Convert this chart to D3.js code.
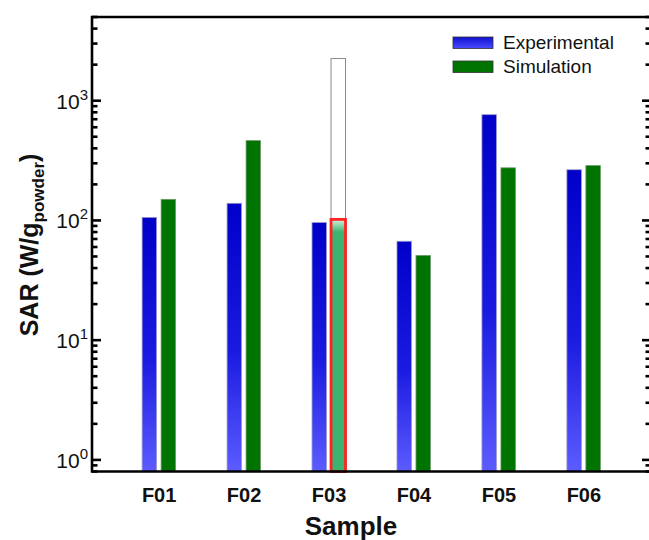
<!DOCTYPE html>
<html>
<head>
<meta charset="utf-8">
<script src="https://cdn.jsdelivr.net/npm/d3@7"></script>
<style>
  html, body { margin: 0; padding: 0; background: #fff; }
  svg { display: block; font-family: "Liberation Sans", Arial, sans-serif; }
</style>
</head>
<body>
<svg id="chart" width="649" height="540"></svg>
<script>
// values (log axis)
const samples = ['F01', 'F02', 'F03', 'F04', 'F05', 'F06'];
const series = ['Experimental', 'Simulation'];
const experimental = [106, 139, 96, 67, 764, 265];
const simulation = [150, 464, 102, 51, 275, 287];
const f03Outline = 2250;          // open grey bar stacked over F03 simulation
const decadeTicks = [1, 10, 100, 1000];
const decadeLabels = ['0', '1', '2', '3'];

const plotL = 92, plotR = 651, plotT = 17, plotB = 471.5;

const svg = d3.select('#chart');
const defs = svg.append('defs');

// blue bars fade from dark to lighter toward the base
const gBlue = defs.append('linearGradient').attr('id', 'gBlue')
    .attr('x1', 0).attr('y1', 0).attr('x2', 0).attr('y2', 1);
gBlue.append('stop').attr('offset', '0%').attr('stop-color', '#0000c8');
gBlue.append('stop').attr('offset', '55%').attr('stop-color', '#1a1ae0');
gBlue.append('stop').attr('offset', '100%').attr('stop-color', '#5c5cff');

const gLegBlue = defs.append('linearGradient').attr('id', 'gLegBlue')
    .attr('x1', 0).attr('y1', 0).attr('x2', 0).attr('y2', 1);
gLegBlue.append('stop').attr('offset', '0%').attr('stop-color', '#1010d0');
gLegBlue.append('stop').attr('offset', '100%').attr('stop-color', '#4a4aff');

const gHi = defs.append('linearGradient').attr('id', 'gHi')
    .attr('x1', 0).attr('y1', 0).attr('x2', 0).attr('y2', 1);
gHi.append('stop').attr('offset', '0%').attr('stop-color', '#d8efe0');
gHi.append('stop').attr('offset', '5%').attr('stop-color', '#3cb371');
gHi.append('stop').attr('offset', '100%').attr('stop-color', '#3cb371');

const x = d3.scaleBand().domain(samples).range([plotL, plotR]).paddingInner(0).paddingOuter(0.29);
const x1 = d3.scaleBand().domain(series).range([-17, 16.5]).paddingInner(0.237);
const y = d3.scaleLog().domain([0.8, 5000]).range([plotB, plotT]);

const isMajor = v => Math.abs(Math.log10(v) - Math.round(Math.log10(v))) < 1e-9;
const allTicks = y.ticks();

// bars
const rows = samples.map((s, i) => ({ s, exp: experimental[i], sim: simulation[i] }));
const cx = s => x(s) + x.bandwidth() / 2;

// grey open bar above F03 simulation
svg.append('rect')
    .attr('x', cx('F03') + x1('Simulation'))
    .attr('width', x1.bandwidth())
    .attr('y', y(f03Outline))
    .attr('height', y(simulation[2]) - y(f03Outline))
    .attr('fill', '#fff').attr('stroke', '#8a8a8a').attr('stroke-width', 1);

svg.append('g').selectAll('rect').data(rows).join('rect')
    .attr('x', d => cx(d.s) + x1('Experimental'))
    .attr('width', x1.bandwidth())
    .attr('y', d => y(d.exp))
    .attr('height', d => plotB - y(d.exp))
    .attr('fill', 'url(#gBlue)')
    .attr('stroke', '#9a9acc').attr('stroke-width', 0.8);

svg.append('g').selectAll('rect').data(rows).join('rect')
    .attr('x', d => cx(d.s) + x1('Simulation'))
    .attr('width', x1.bandwidth())
    .attr('y', d => y(d.sim))
    .attr('height', d => plotB - y(d.sim))
    .attr('fill', d => d.s === 'F03' ? 'url(#gHi)' : '#007400')
    .attr('stroke', d => d.s === 'F03' ? '#ff2222' : '#6a9a6a')
    .attr('stroke-width', d => d.s === 'F03' ? 2.8 : 0.8);

// frame
svg.append('path')
    .attr('d', `M${plotR},${plotT}H${plotL}V${plotB}H${plotR}`)
    .attr('fill', 'none').attr('stroke', '#000').attr('stroke-width', 2.6);

// inward ticks on both vertical axes
const tickLen = d => isMajor(d) ? 9 : 5.5;
svg.append('g').attr('class', 'ticks-left').selectAll('line').data(allTicks).join('line')
    .attr('x1', plotL).attr('x2', d => plotL + tickLen(d))
    .attr('y1', d => y(d)).attr('y2', d => y(d))
    .attr('stroke', '#000').attr('stroke-width', 2.6);
svg.append('g').attr('class', 'ticks-right').selectAll('line').data(allTicks).join('line')
    .attr('x1', plotR).attr('x2', d => plotR - tickLen(d))
    .attr('y1', d => y(d)).attr('y2', d => y(d))
    .attr('stroke', '#000').attr('stroke-width', 2.6);

const xAxis = svg.append('g').attr('transform', `translate(0,${plotB})`)
    .call(d3.axisBottom(x).tickSize(0).tickPadding(12));
xAxis.select('.domain').remove();
xAxis.selectAll('text')
    .attr('font-size', 20).attr('font-weight', 'bold').attr('fill', '#111')
    .attr('font-family', '"Liberation Sans", Arial, sans-serif')
    .attr('dy', '0.9em');

// y tick labels 10^n
const yl = svg.append('g').selectAll('text').data(decadeTicks).join('text')
    .attr('x', 88).attr('y', d => y(d) + 8)
    .attr('text-anchor', 'end')
    .attr('font-size', 21).attr('fill', '#111');
yl.append('tspan').text('10');
yl.append('tspan').attr('font-size', 15).attr('dy', -9).text((d, i) => decadeLabels[i]);

// axis titles
const yt = svg.append('text')
    .attr('transform', `translate(38,${(152 + 338) / 2}) rotate(-90)`)
    .attr('text-anchor', 'middle')
    .attr('font-size', 25).attr('font-weight', 'bold').attr('fill', '#111');
yt.append('tspan').text('SAR (W/g');
yt.append('tspan').attr('font-size', 17).attr('dy', 6).text('powder');
yt.append('tspan').attr('dy', -6).text(')');

svg.append('text')
    .attr('x', 351).attr('y', 535)
    .attr('text-anchor', 'middle')
    .attr('font-size', 26).attr('font-weight', 'bold').attr('fill', '#111')
    .text('Sample');

// legend
const legend = svg.append('g').attr('transform', 'translate(453,37)');
const legFill = ['url(#gLegBlue)', '#007400'];
series.forEach((s, i) => {
    const g = legend.append('g').attr('transform', `translate(0,${i * 24})`);
    g.append('rect').attr('width', 40).attr('height', 11.5)
        .attr('fill', legFill[i]).attr('stroke', '#333').attr('stroke-width', 0.8);
    g.append('text').attr('x', 50).attr('y', 12)
        .attr('font-size', 19).attr('fill', '#111').text(s);
});
</script>
</body>
</html>
